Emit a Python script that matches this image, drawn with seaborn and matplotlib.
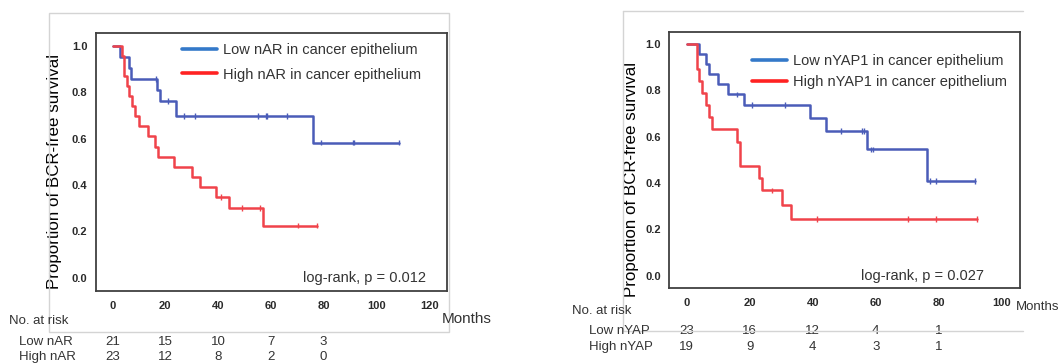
import pandas as pd
import seaborn as sns
import matplotlib.pyplot as plt
from matplotlib.lines import Line2D
from matplotlib.patches import Rectangle
import matplotlib.transforms as mtransforms

# ---- data ----
# Left panel: nAR
nar_low_t = [0, 3.0, 6.1, 7.0, 17.0, 18.1, 24.2, 75.9, 108.6]
nar_low_s = [1.0, 0.952, 0.905, 0.857, 0.810, 0.762, 0.698, 0.582, 0.582]
nar_low_cens_t = [16.3, 21.2, 27.2, 31.1, 55.1, 58.0, 58.7, 66.1, 78.9, 91.1, 91.6, 108.6]
nar_low_cens_s = [0.857, 0.762, 0.698, 0.698, 0.698, 0.698, 0.698, 0.698, 0.582, 0.582, 0.582, 0.582]

nar_high_t = [0, 3.4, 4.3, 5.3, 6.2, 7.2, 8.5, 10.0, 13.3, 16.1, 17.1, 23.3, 30.3, 33.1, 39.2, 44.3, 57.1, 77.4]
nar_high_s = [1.0, 0.957, 0.870, 0.826, 0.783, 0.739, 0.696, 0.652, 0.609, 0.565, 0.522, 0.478, 0.435,
              0.391, 0.348, 0.300, 0.225, 0.225]
nar_high_cens_t = [41.1, 49.2, 56.0, 70.3, 77.4]
nar_high_cens_s = [0.348, 0.300, 0.300, 0.225, 0.225]

# Right panel: nYAP1
yap_low_t = [0, 3.9, 6.3, 7.2, 10.0, 13.0, 18.2, 39.1, 44.2, 57.1, 76.2, 91.5]
yap_low_s = [1.0, 0.957, 0.913, 0.870, 0.826, 0.783, 0.737, 0.680, 0.624, 0.546, 0.410, 0.410]
yap_low_cens_t = [15.9, 20.9, 31.2, 49.0, 55.6, 56.4, 58.4, 59.0, 77.2, 79.1, 91.5]
yap_low_cens_s = [0.783, 0.737, 0.737, 0.624, 0.624, 0.624, 0.546, 0.546, 0.410, 0.410, 0.410]

yap_high_t = [0, 3.2, 4.0, 5.0, 6.0, 7.0, 7.9, 15.9, 16.9, 23.0, 24.0, 30.2, 33.1, 92.3]
yap_high_s = [1.0, 0.895, 0.842, 0.789, 0.737, 0.684, 0.632, 0.579, 0.474, 0.421, 0.368, 0.307, 0.245, 0.245]
yap_high_cens_t = [27.0, 41.3, 70.2, 79.1, 92.3]
yap_high_cens_s = [0.368, 0.245, 0.245, 0.245, 0.245]

risk_times = [0, 20, 40, 60, 80]
nar_risk_low = [21, 15, 10, 7, 3]
nar_risk_high = [23, 12, 8, 2, 0]
yap_risk_low = [23, 16, 12, 4, 1]
yap_risk_high = [19, 9, 4, 3, 1]

nar_labels = ['Low nAR in cancer epithelium', 'High nAR in cancer epithelium']
yap_labels = ['Low nYAP1 in cancer epithelium', 'High nYAP1 in cancer epithelium']
nar_risk_labels = ['Low nAR', 'High nAR']
yap_risk_labels = ['Low nYAP', 'High nYAP']

# ---- style ----
sns.set_style('white')
plt.rcParams['font.family'] = ['Liberation Sans', 'DejaVu Sans']

curve_colors = {'low': '#4a5cb8', 'high': '#f0434a'}
legend_colors = ['#3479c9', '#ff2222']
W, H = 1061, 364


def make_frame(t_low, s_low, t_high, s_high):
    a = pd.DataFrame({'time': t_low, 'surv': s_low, 'group': 'low'})
    b = pd.DataFrame({'time': t_high, 'surv': s_high, 'group': 'high'})
    return pd.concat([a, b], ignore_index=True)


def draw_panel(ax, curves, cens, xlim, ylim, xticks, labels, legend_anchor, lspace, pval, pval_x):
    sns.lineplot(data=curves, x='time', y='surv', hue='group', palette=curve_colors,
                 drawstyle='steps-post', estimator=None, sort=False, linewidth=1.8,
                 legend=False, ax=ax)
    sns.scatterplot(data=cens, x='time', y='surv', hue='group', palette=curve_colors,
                    marker='|', s=16, linewidth=1.0, legend=False, ax=ax)
    ax.set_xlim(*xlim)
    ax.set_ylim(*ylim)
    ax.set_xticks(xticks)
    ax.set_yticks([0.0, 0.2, 0.4, 0.6, 0.8, 1.0])
    ax.set_yticklabels(['0.0', '0.2', '0.4', '0.6', '0.8', '1.0'])
    ax.set_xlabel('')
    ax.set_ylabel('Proportion of BCR-free survival', fontsize=12.2, color='black')
    for sp in ax.spines.values():
        sp.set_color('#404040')
        sp.set_linewidth(1.3)
    ax.tick_params(axis='both', direction='out', length=5, width=1, color='#404040',
                   labelsize=8, labelcolor='#2a2a2a')
    ax.tick_params(axis='x', pad=2.5)
    ax.tick_params(axis='y', pad=1)
    for lab in ax.get_xticklabels() + ax.get_yticklabels():
        lab.set_fontweight('bold')
    handles = [Line2D([0], [0], color=c, lw=2.6) for c in legend_colors]
    ax.legend(handles, labels, loc='upper left', bbox_to_anchor=legend_anchor, frameon=False,
              fontsize=10.5, handlelength=2.4, handletextpad=0.45, labelspacing=lspace,
              labelcolor='#333333', borderaxespad=0, borderpad=0)
    ax.text(pval_x, 0.0, pval, ha='right', va='center', fontsize=10.5, color='#333333')


def risk_table(fig, ax, header_xy, months_xy, months_size, row_x, row_ys, row_labels, rows):
    fig.text(header_xy[0] / W, 1 - header_xy[1] / H, 'No. at risk', fontsize=9.5,
             color='#333333', va='center')
    fig.text(months_xy[0] / W, 1 - months_xy[1] / H, 'Months', fontsize=months_size,
             color='#333333', va='center')
    trans = mtransforms.blended_transform_factory(ax.transData, fig.transFigure)
    for y, lab, vals in zip(row_ys, row_labels, rows):
        fig.text(row_x / W, 1 - y / H, lab, fontsize=9.5, color='#333333', va='center')
        for t, v in zip(risk_times, vals):
            ax.text(t, 1 - y / H, str(v), transform=trans, ha='center', va='center',
                    fontsize=9.5, color='#333333')


fig = plt.figure(figsize=(W / 100, H / 100), dpi=100)

# light grey outer frames
fig.add_artist(Rectangle((49.3 / W, 1 - 332.3 / H), (449 - 49.3) / W, (332.3 - 12.7) / H,
                         transform=fig.transFigure, fill=False, edgecolor='#d4d4d4', lw=1))
for (x0, y0, x1, y1) in [(623.3, 10.7, 1023, 10.7), (623.3, 10.7, 623.3, 331), (623.3, 330.7, 1023, 330.7)]:
    fig.add_artist(Line2D([x0 / W, x1 / W], [1 - y0 / H, 1 - y1 / H], transform=fig.transFigure,
                          color='#d4d4d4', lw=1))

ax1 = fig.add_axes([95.7 / W, 1 - 290.7 / H, (447 - 95.7) / W, (290.7 - 33.3) / H])
ax2 = fig.add_axes([669.3 / W, 1 - 287.7 / H, (1020 - 669.3) / W, (287.7 - 31.7) / H])

draw_panel(ax1, make_frame(nar_low_t, nar_low_s, nar_high_t, nar_high_s),
           make_frame(nar_low_cens_t, nar_low_cens_s, nar_high_cens_t, nar_high_cens_s),
           (-6.4, 126.8), (-0.055, 1.053), [0, 20, 40, 60, 80, 100, 120], nar_labels,
           (0.245, 0.962), 0.72, 'log-rank, p = 0.012', 119)
ax1.yaxis.set_label_coords(-0.097, 0.463)

draw_panel(ax2, make_frame(yap_low_t, yap_low_s, yap_high_t, yap_high_s),
           make_frame(yap_low_cens_t, yap_low_cens_s, yap_high_cens_t, yap_high_cens_s),
           (-5.5, 105.8), (-0.052, 1.054), [0, 20, 40, 60, 80, 100], yap_labels,
           (0.235, 0.913), 0.5, 'log-rank, p = 0.027', 94.4)
ax2.yaxis.set_label_coords(-0.085, 0.423)

risk_table(fig, ax1, (9, 321), (441.7, 319), 11, 19, (341.7, 357.3), nar_risk_labels,
           (nar_risk_low, nar_risk_high))
risk_table(fig, ax2, (571.7, 311), (1016, 306.7), 9.5, 589.3, (331, 346.7), yap_risk_labels,
           (yap_risk_low, yap_risk_high))

fig.savefig('out.png', dpi=100)
